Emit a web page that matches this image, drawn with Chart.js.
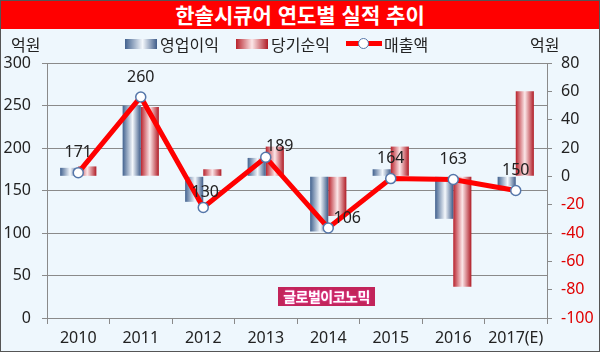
<!DOCTYPE html>
<html lang="ko">
<head>
<meta charset="utf-8">
<script src="https://cdn.jsdelivr.net/npm/chart.js@4.4.1/dist/chart.umd.min.js"></script>
<style>
    html, body { margin: 0; padding: 0; }
    #wrap { position: relative; width: 600px; height: 352px; background: #eef7fd; overflow: hidden; font-family: "Noto Sans CJK KR", "Noto Sans", sans-serif; }
    #title { position: absolute; left: 0; top: 0; width: 600px; height: 29px; background: #ff0000; color: #fff; font-weight: bold; font-size: 21px; line-height: 29px; text-align: center; }
    #frame { position: absolute; left: 0; top: 0; width: 598px; height: 350px; border: 1px solid #555; pointer-events: none; }
    canvas { position: absolute; left: 0; top: 0; }
    .lg { position: absolute; top: 33px; font-size: 16px; line-height: 22px; color: #222; white-space: nowrap; }
    .box { position: absolute; top: 39px; width: 32px; height: 10px; }
    #wm { position: absolute; left: 278px; top: 287px; width: 97px; height: 19px; background: #c2245a; color: #fff; font-weight: bold; font-size: 14px; line-height: 19px; text-align: center; letter-spacing: -0.5px; text-shadow: 0 0 2px #f6c; }
</style>
</head>
<body>
<div id="wrap">
    <canvas id="chart" width="600" height="352"></canvas>
    <div id="title">한솔시큐어 연도별 실적 추이</div>
    <div class="lg" style="left:11px">억원</div>
    <div class="lg" style="left:530px">억원</div>
    <div class="box" style="left:125px;background:linear-gradient(90deg,#42628f,#f4f8fc 55%,#3f5d8a)"></div>
    <div class="lg" style="left:160px">영업이익</div>
    <div class="box" style="left:236px;background:linear-gradient(90deg,#b8222c,#fbe6e8 50%,#b01c26)"></div>
    <div class="lg" style="left:271px">당기순익</div>
    <div class="box" style="left:346px;top:41px;width:36px;height:5px;background:#ff0000"></div>
    <div class="box" style="left:358px;top:38px;width:9px;height:9px;border:1.5px solid #5577aa;border-radius:50%;background:#fff"></div>
    <div class="lg" style="left:384px">매출액</div>
    <div id="wm">글로벌이코노믹</div>
    <div id="frame"></div>
</div>
<script>
const years = ["2010", "2011", "2012", "2013", "2014", "2015", "2016", "2017(E)"];
const operatingProfit = [6, 50, -18, 13, -39, 5, -30, -7];
const netProfit = [7, 49, 5, 21, -28, 21, -78, 60];
const revenue = [171, 260, 130, 189, 106, 164, 163, 150];
const leftTicks = { min: 0, max: 300, step: 50 };
const rightTicks = { min: -100, max: 80, step: 20 };

const catShare = 0.58;

function barGradient(stops, side) {
    return function (ctx) {
        const chart = ctx.chart;
        const area = chart.chartArea;
        const xScale = chart.scales.x;
        if (!area || !xScale) return stops[0][1];
        const barW = (area.right - area.left) / years.length * catShare / 2;
        const cx = xScale.getPixelForValue(ctx.dataIndex);
        const x0 = side < 0 ? cx - barW : cx;
        const g = chart.ctx.createLinearGradient(x0, 0, x0 + barW, 0);
        stops.forEach(s => g.addColorStop(s[0], s[1]));
        return g;
    };
}

const labelShift = { 2: [2, -15], 3: [14, -11], 4: [19, -9] };

const valueLabels = {
    id: "valueLabels",
    afterDatasetsDraw(chart) {
        const meta = chart.getDatasetMeta(2);
        const c = chart.ctx;
        c.save();
        c.font = "16px 'Noto Sans', sans-serif";
        c.fillStyle = "#222";
        c.textAlign = "center";
        c.textBaseline = "middle";
        meta.data.forEach((pt, i) => {
            const s = labelShift[i] || [0, -20];
            c.fillText(String(revenue[i]), pt.x + s[0], pt.y + s[1]);
        });
        c.restore();
    }
};

const gridColor = "#8a8a8a";
const tickFont = { family: "'Noto Sans', sans-serif", size: 16 };

new Chart(document.getElementById("chart"), {
    type: "bar",
    data: {
        labels: years,
        datasets: [
            {
                label: "영업이익",
                data: operatingProfit,
                yAxisID: "y1",
                order: 2,
                backgroundColor: barGradient([[0, "#42628f"], [0.55, "#f4f8fc"], [1, "#3f5d8a"]], -1),
                categoryPercentage: catShare,
                barPercentage: 1
            },
            {
                label: "당기순익",
                data: netProfit,
                yAxisID: "y1",
                order: 2,
                backgroundColor: barGradient([[0, "#b8222c"], [0.5, "#fbe6e8"], [1, "#b01c26"]], 1),
                categoryPercentage: catShare,
                barPercentage: 1
            },
            {
                type: "line",
                label: "매출액",
                data: revenue,
                yAxisID: "y",
                order: 0,
                borderColor: "#ff0000",
                borderWidth: 5,
                pointRadius: 5,
                pointBackgroundColor: "#ffffff",
                pointBorderColor: "#5577aa",
                pointBorderWidth: 1.5,
                tension: 0
            }
        ]
    },
    options: {
        responsive: false,
        animation: false,
        layout: { padding: { top: 63, left: 0, right: 0, bottom: 0 } },
        plugins: { legend: { display: false }, tooltip: { enabled: false } },
        scales: {
            x: {
                grid: { offset: true, drawOnChartArea: false, tickLength: 6, color: gridColor },
                border: { color: gridColor },
                ticks: { color: "#222", font: tickFont, padding: 5, maxRotation: 0 },
                afterFit: s => { s.height = 34; }
            },
            y: {
                position: "left",
                min: leftTicks.min,
                max: leftTicks.max,
                grid: { color: gridColor, tickLength: 5 },
                border: { color: gridColor },
                ticks: { stepSize: leftTicks.step, color: "#222", font: tickFont, padding: 11 },
                afterFit: s => { s.width = 47; }
            },
            y1: {
                position: "right",
                min: rightTicks.min,
                max: rightTicks.max,
                grid: { drawOnChartArea: false, color: gridColor, tickLength: 5 },
                border: { color: gridColor },
                ticks: {
                    stepSize: rightTicks.step,
                    font: tickFont,
                    padding: 9,
                    color: ctx => ctx.tick.value < 0 ? "#e00000" : "#222"
                },
                afterFit: s => { s.width = 53; }
            }
        }
    },
    plugins: [valueLabels]
});
</script>
</body>
</html>
